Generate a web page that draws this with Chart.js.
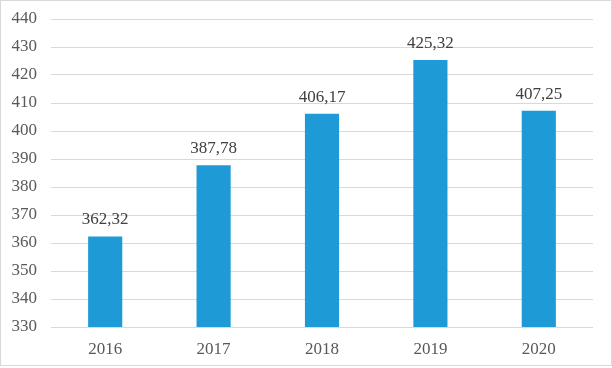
<!DOCTYPE html>
<html>
<head>
<meta charset="utf-8">
<script src="https://cdn.jsdelivr.net/npm/chart.js@4/dist/chart.umd.min.js"></script>
<style>
  html, body { margin: 0; padding: 0; background: #fff; }
  #wrap { width: 612px; height: 368px; position: relative; }
</style>
</head>
<body>
<div id="wrap"><canvas id="myChart"></canvas></div>
<script>
const years = ['2016', '2017', '2018', '2019', '2020'];
const values = [362.32, 387.78, 406.17, 425.32, 407.25];
const valueLabels = ['362,32', '387,78', '406,17', '425,32', '407,25'];

const fontFamily = '"Liberation Serif", "Times New Roman", serif';

// value labels above bars + outer frame
const labelsPlugin = {
  id: 'labels',
  afterDatasetsDraw(chart) {
    const ctx = chart.ctx;
    const meta = chart.getDatasetMeta(0);
    ctx.save();
    ctx.font = '17px ' + fontFamily;
    ctx.fillStyle = '#404040';
    ctx.textAlign = 'center';
    ctx.textBaseline = 'bottom';
    meta.data.forEach((bar, i) => {
      ctx.fillText(valueLabels[i], bar.x, bar.y - 8);
    });
    ctx.strokeStyle = '#d9d9d9';
    ctx.lineWidth = 1;
    ctx.strokeRect(0.5, 0.5, chart.width - 1, chart.height - 3);
    ctx.restore();
  }
};

new Chart(document.getElementById('myChart'), {
  type: 'bar',
  data: {
    labels: years,
    datasets: [{
      data: values,
      backgroundColor: '#1e9bd7',
      barPercentage: 1,
      categoryPercentage: 0.315
    }]
  },
  options: {
    responsive: true,
    maintainAspectRatio: false,
    animation: false,
    layout: { padding: { top: 19, right: 19, left: 0, bottom: 0 } },
    plugins: { legend: { display: false }, tooltip: { enabled: false } },
    scales: {
      x: {
        grid: { display: false },
        border: { display: false },
        ticks: { color: '#595959', font: { family: fontFamily, size: 17 }, padding: 4 },
        afterFit(scale) { scale.height = 41; scale.paddingLeft = 0; scale.paddingRight = 0; }
      },
      y: {
        min: 330,
        max: 440,
        grid: { color: '#d9d9d9', drawTicks: false },
        border: { display: false },
        ticks: { stepSize: 10, color: '#595959', font: { family: fontFamily, size: 17 }, padding: 14 },
        afterFit(scale) { scale.width = 51; scale.paddingTop = 0; scale.paddingBottom = 0; }
      }
    }
  },
  plugins: [labelsPlugin]
});
</script>
</body>
</html>
